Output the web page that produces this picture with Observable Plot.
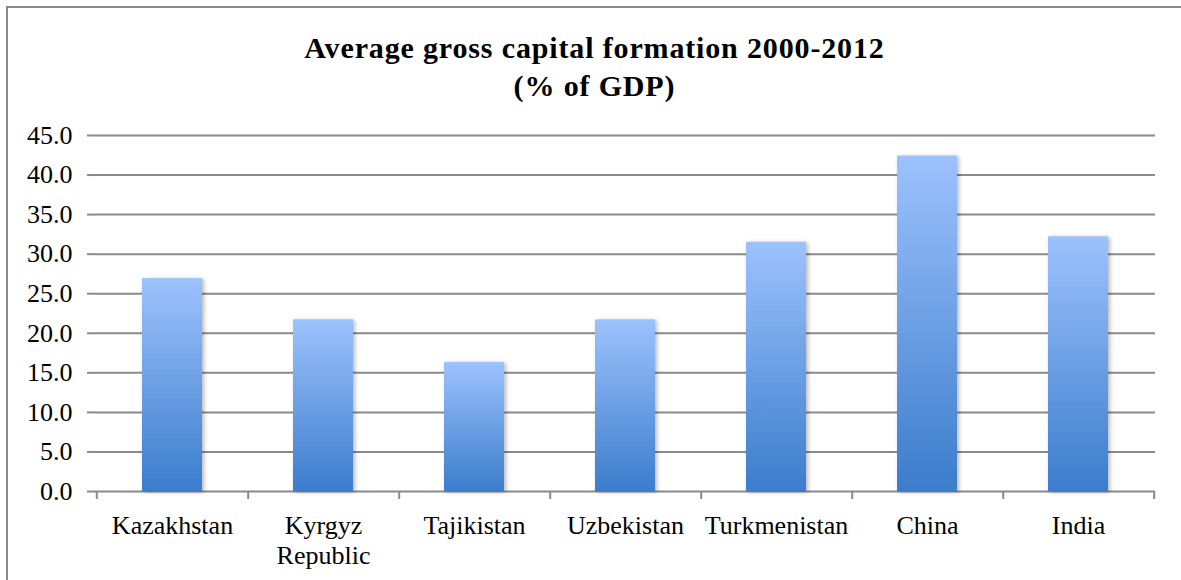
<!DOCTYPE html>
<html>
<head>
<meta charset="utf-8">
<script src="https://cdn.jsdelivr.net/npm/d3@7"></script>
<script src="https://cdn.jsdelivr.net/npm/@observablehq/plot@0.6"></script>
<style>
  html, body { margin: 0; padding: 0; background: #fff; }
  #wrap { position: relative; width: 1181px; height: 580px; overflow: hidden; background: #fff; }
  #frame { position: absolute; left: 6px; top: 6px; width: 1200px; height: 600px;
           border-left: 2px solid #8a8a8a; border-top: 2px solid #8a8a8a; pointer-events: none; }
  #title { box-sizing: border-box; height: 110px; padding-top: 29px; padding-left: 8px;
           text-align: center; font-family: "Liberation Serif", "Times New Roman", serif;
           font-weight: bold; font-size: 30px; line-height: 38px; letter-spacing: 0.85px; color: #000; }
  #chart svg { display: block; }
  g[aria-label="bar"] { filter: drop-shadow(2px 1px 2px rgba(0,0,0,0.28)); }
</style>
</head>
<body>
<div id="wrap">
  <div id="title">Average gross capital formation 2000-2012<br>(% of GDP)</div>
  <div id="chart"></div>
  <div id="frame"></div>
</div>
<script>
const countries = ["Kazakhstan", "Kyrgyz Republic", "Tajikistan", "Uzbekistan", "Turkmenistan", "China", "India"];
const values = [26.9, 21.7, 16.3, 21.7, 31.5, 42.4, 32.2];
const yTicks = [0, 5, 10, 15, 20, 25, 30, 35, 40, 45];

const data = countries.map((c, i) => ({country: c, value: values[i]}));

const W = 1181, H = 470, ML = 95, MR = 26, MT = 25, MB = 89;
const step = (W - ML - MR) / countries.length;
const grid = "#8a8a8a";
const font = "Liberation Serif, Times New Roman, serif";

const plot = Plot.plot({
  width: W, height: H,
  marginLeft: ML, marginRight: MR, marginTop: MT, marginBottom: MB,
  style: {fontFamily: font, fontSize: "26px", color: "#000", background: "#fff", overflow: "visible"},
  x: {domain: countries, paddingInner: 0.6, paddingOuter: 0.3, label: null},
  y: {domain: [0, 45], label: null},
  marks: [
    Plot.ruleY(yTicks, {stroke: grid, strokeWidth: 2}),
    Plot.axisY({ticks: yTicks, tickFormat: d => d.toFixed(1), tickSize: 8, tickPadding: 15,
                stroke: grid, strokeWidth: 2, strokeOpacity: 1, fontSize: 26, fill: "#000", label: null}),
    Plot.ruleX([0], {x: () => countries[0], y1: 0, y2: 0, dx: -step / 2, stroke: grid, strokeWidth: 2, insetBottom: -8}),
    Plot.ruleX(countries, {x: d => d, y1: 0, y2: 0, dx: step / 2, stroke: grid, strokeWidth: 2, insetBottom: -8}),
    Plot.barY(data, {x: "country", y: "value", fill: "url(#barGrad)"}),
    Plot.axisX({tickSize: 0, tickPadding: 21, fontSize: 26, fill: "#000", lineHeight: 1.15,
                tickFormat: d => d.replace(" ", "\n"), label: null})
  ]
});

const svg = d3.select(plot);
const defs = svg.insert("defs", ":first-child");
const g = defs.append("linearGradient").attr("id", "barGrad")
  .attr("x1", 0).attr("y1", 0).attr("x2", 0).attr("y2", 1);
g.append("stop").attr("offset", "0%").attr("stop-color", "#9dc2fd");
g.append("stop").attr("offset", "100%").attr("stop-color", "#3b7dcc");

document.getElementById("chart").appendChild(plot);
</script>
</body>
</html>
